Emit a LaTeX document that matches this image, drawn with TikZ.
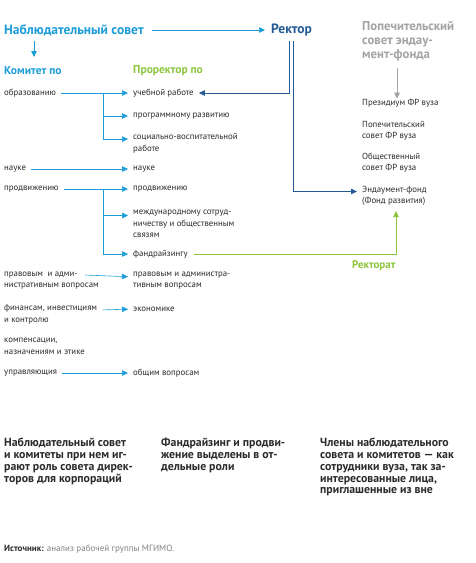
\documentclass[tikz,border=0pt]{standalone}
\usepackage{fontspec}
\setmainfont{PT Sans}
\usetikzlibrary{arrows.meta,calc}
\definecolor{cyanc}{HTML}{1B9DD9}
\definecolor{bluec}{HTML}{245B96}
\definecolor{greenc}{HTML}{8CC63F}
\definecolor{grayc}{HTML}{A3A3A3}
\definecolor{txt}{HTML}{2B2B2B}
\tikzset{
  lbl/.style={anchor=west, inner sep=0pt, align=left, text=txt, font=\fontsize{8.8}{11.5}\selectfont},
  head/.style={anchor=west, inner sep=0pt, font=\bfseries\fontsize{13.5}{15}\selectfont},
  sub/.style={anchor=west, inner sep=0pt, font=\bfseries\fontsize{11.5}{13}\selectfont},
  note/.style={anchor=north west, inner sep=0pt, align=left, text=txt, font=\bfseries\fontsize{11.8}{11.8}\selectfont},
  tip/.style={-{Triangle[length=6pt,width=5.5pt]}},
  carr/.style={tip, draw=cyanc, line width=0.6pt, shorten <=5pt, shorten >=5pt},
  barr/.style={tip, draw=bluec, line width=1pt, shorten >=5pt},
  garr/.style={tip, draw=greenc, line width=1pt, shorten <=6pt, shorten >=5pt},
  grarr/.style={tip, draw=grayc, line width=0.8pt},
}
\begin{document}
\begin{tikzpicture}[x=1pt,y=-1pt]
\useasboundingbox[fill=white] (0,0) rectangle (475,563);
% headers
\node[head, text=cyanc] (nab) at (4,30) {Наблюдательный совет};
\node[head, text=bluec] (rector) at (271,30) {Ректор};
\node[sub, text=cyanc] (kom) at (4,71) {Комитет по};
\node[sub, text=greenc] (pror) at (133,71) {Проректор по};
\node[anchor=north west, inner sep=0pt, align=left, text=grayc, font=\bfseries\fontsize{12.8}{14}\selectfont] (trust) at (362,21) {Попечительский\\совет эндау-\\мент-фонда};
\draw[carr, shorten <=8pt, shorten >=6pt] (nab.east) -- (rector.west);
\coordinate (kd1) at (34,41);
\coordinate (kd2) at (34,57);
\draw[tip, draw=cyanc, line width=0.8pt] (kd1) -- (kd2);
% left column
\node[lbl] (l1) at (4,93) {образованию};
\node[lbl] (l2) at (4,169) {науке};
\node[lbl] (l3) at (4,189) {продвижению};
\node[lbl] (l4) at (4,280.5) {правовым \ и адми-\\нистративным вопросам};
\node[lbl] (l5) at (4,314.5) {финансам, инвестициям\\и контролю};
\node[lbl] (l6) at (4,346.5) {компенсации,\\назначениям и этике};
\node[lbl] (l7) at (4,373) {управляющия};
% right column
\node[lbl] (r1) at (133,93) {учебной работе};
\node[lbl] (r2) at (133,116) {программному развитию};
\node[lbl] (r3) at (133,143.5) {социально-воспитательной\\работе};
\node[lbl] (r4) at (133,169) {науке};
\node[lbl] (r5) at (133,189) {продвижению};
\node[lbl] (r6) at (133,224) {международному сотруд-\\ничеству и общественным\\связям};
\node[lbl] (r7) at (133,254) {фандрайзингу};
\node[lbl] (r8) at (133,280.5) {правовым и администра-\\тивным вопросам};
\node[lbl] (r9) at (133,309) {экономике};
\node[lbl] (r10) at (133,373) {общим вопросам};
% endowment column
\node[lbl] (f1) at (362,103) {Президиум ФР вуза};
\node[lbl] (f2) at (362,131) {Попечительский\\совет ФР вуза};
\node[lbl] (f3) at (362,162.5) {Общественный\\совет ФР вуза};
\node[lbl] (f4) at (362,196) {Эндаумент-фонд\\(Фонд развития)};
\node[sub, text=greenc, font=\bfseries\fontsize{11}{13}\selectfont] (rat) at (352,266) {Ректорат};
% cyan arrows
\draw[carr] (l1.east) -- (r1.west);
\coordinate (b1) at (103,93);
\draw[carr, shorten <=0pt] (b1) |- (r2.west);
\draw[carr, shorten <=0pt] (b1) |- ($(r3.north west)+(0,5.5)$);
\draw[carr] (l2.east) -- (r4.west);
\draw[carr] (l3.east) -- (r5.west);
\coordinate (b2) at (103,189);
\draw[carr, shorten <=0pt] (b2) |- ($(r6.north west)+(0,5.5)$);
\draw[carr, shorten <=0pt] (b2) |- (r7.west);
\coordinate (l4e) at (85,275);
\draw[carr, shorten <=0pt] (l4e) -- ($(r8.north west)+(0,5.5)$);
\draw[carr] ($(l5.north east)+(0,5.5)$) -- (r9.west);
\draw[carr] (l7.east) -- (r10.west);
% rector lines
\coordinate (ra) at (289,41);
\coordinate (rb) at (293,41);
\draw[barr] (ra) |- (r1.east);
\draw[barr] (rb) |- ($(f4.north west)+(0,5.5)$);
% green fundraising line
\coordinate (gc) at (396,254);
\draw[garr] (r7.east) -| (f4.south -| gc);
% gray arrow
\coordinate (ga) at (397,68);
\draw[grarr] (ga) -- (f1.north -| ga);
% notes
\node[note] (n1) at (4,438) {Наблюдательный совет\\и комитеты при нем иг-\\рают роль совета дирек-\\торов для корпораций};
\node[note] (n2) at (161,438) {Фандрайзинг и продви-\\жение выделены в от-\\дельные роли};
\node[note] (n3) at (320,438) {Члены наблюдательного\\совета и комитетов — как\\сотрудники вуза, так за-\\интересованные лица,\\приглашенные из вне};
\node[anchor=west, inner sep=0pt, text=txt, font=\fontsize{9}{11}\selectfont] (src) at (4,549) {\textbf{Источник:} \textcolor{grayc!80!black}{анализ рабочей группы МГИМО.}};
\end{tikzpicture}
\end{document}
